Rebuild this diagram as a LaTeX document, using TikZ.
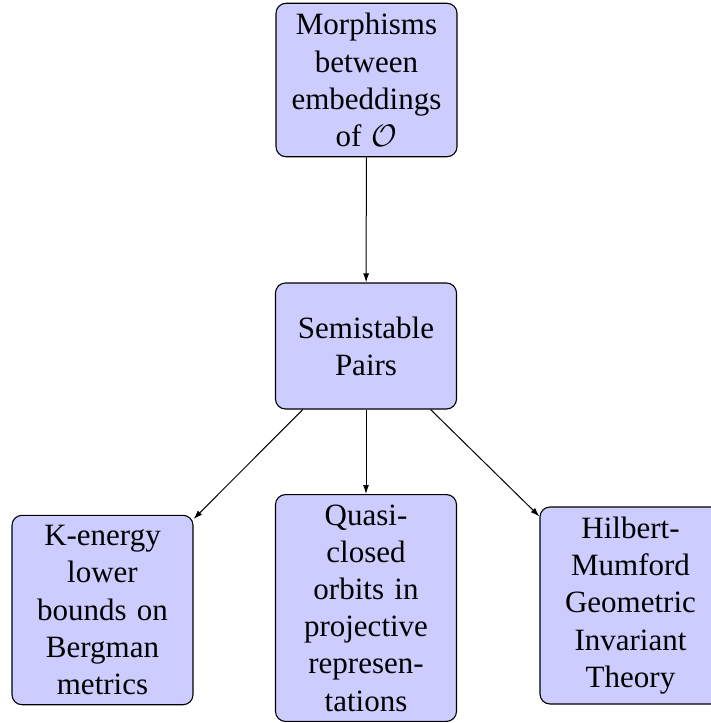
\documentclass[tikz,border=0pt]{standalone}
\usepackage{graphicx}
\usepackage{fontspec}
\setmainfont{Liberation Serif}
\usetikzlibrary{arrows.meta}
\newcommand{\bigcalO}{\scalebox{3.1}{\fontsize{10}{12}\selectfont$\mathcal{O}$}}
\tikzset{
  box/.style={draw=black, line width=1.1pt, fill=blue!20, rounded corners=10pt,
    text width=161pt, inner sep=10pt, align=center,
    font=\fontsize{31}{37.2}\selectfont},
  conn/.style={line width=1pt, -{Latex[length=9pt,width=6pt]}}
}
\begin{document}
\begin{tikzpicture}[x=1pt,y=1pt]
\useasboundingbox (0,0) rectangle (710,-723);
\node[box] (top) at (366.5,-80) {Morphisms\\between\\embeddings\\of \bigcalO};
\node[box, minimum height=126pt] (semi) at (366,-346) {Semistable\\Pairs};
\node[box] (left) at (102.5,-610) {K-energy\\lower\\bounds on\\Bergman\\metrics};
\node[box] (mid) at (366,-608) {Quasi-\\closed\\orbits in\\projective\\represen-\\tations};
\node[box] (right) at (630.5,-605.5) {Hilbert-\\Mumford\\Geometric\\Invariant\\Theory};
\draw[conn] (top) -- (semi);
\draw[conn] (semi) -- (left);
\draw[conn] (semi) -- (mid);
\draw[conn] (semi) -- (right);
\end{tikzpicture}
\end{document}
